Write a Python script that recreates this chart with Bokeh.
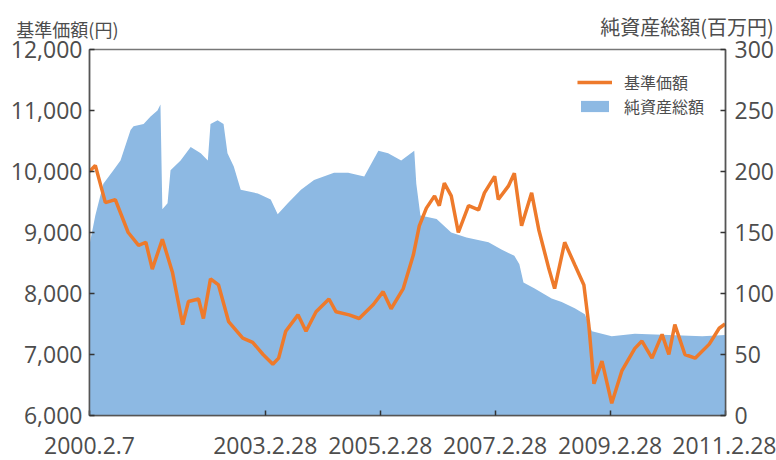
import pandas as pd
from bokeh.plotting import figure
from bokeh.models import (Range1d, LinearAxis, FixedTicker, NumeralTickFormatter,
                          Legend, LegendItem, ColumnDataSource)
from bokeh.embed import file_html
from bokeh.resources import INLINE

# 基準価額 (円)
nav_dates = ["2000-02-07", "2000-03-15", "2000-05-18", "2000-07-20", "2000-10-10", "2000-12-15",
             "2001-01-30", "2001-03-12", "2001-05-15", "2001-07-18", "2001-09-21", "2001-10-28",
             "2001-12-31", "2002-01-31", "2002-03-17", "2002-05-07", "2002-07-10", "2002-10-08",
             "2002-12-10", "2003-02-14", "2003-04-17", "2003-05-24", "2003-07-08", "2003-09-24",
             "2003-11-14", "2004-01-17", "2004-04-08", "2004-05-23", "2004-08-14", "2004-10-17",
             "2005-01-15", "2005-03-18", "2005-05-08", "2005-07-24", "2005-09-26", "2005-11-03",
             "2005-12-18", "2006-02-08", "2006-03-10", "2006-04-11", "2006-05-25", "2006-07-09",
             "2006-09-12", "2006-11-15", "2006-12-22", "2007-02-25", "2007-03-20", "2007-05-23",
             "2007-06-30", "2007-08-15", "2007-10-18", "2007-12-02", "2008-02-05", "2008-03-12",
             "2008-05-15", "2008-07-18", "2008-09-14", "2008-10-15", "2008-11-17", "2009-01-07",
             "2009-03-10", "2009-05-13", "2009-08-04", "2009-09-18", "2009-11-21", "2010-01-24",
             "2010-03-08", "2010-04-15", "2010-06-18", "2010-08-22", "2010-11-20", "2011-01-22",
             "2011-02-28"]
nav_values = [10000, 10100, 9490, 9540, 9000, 8790,
              8840, 8400, 8890, 8350, 7490, 7870,
              7910, 7590, 8240, 8140, 7540, 7270,
              7200, 7000, 6840, 6940, 7380, 7650,
              7380, 7700, 7910, 7700, 7650, 7590,
              7820, 8030, 7750, 8080, 8630, 9110,
              9400, 9600, 9440, 9810, 9600, 9000,
              9440, 9370, 9650, 9920, 9540, 9760,
              9970, 9110, 9650, 9050, 8400, 8080,
              8840, 8470, 8140, 7490, 6520, 6890,
              6200, 6730, 7100, 7220, 6940, 7330,
              7000, 7490, 7000, 6940, 7170, 7430,
              7500]

# 純資産総額 (百万円)
asset_dates = ["2000-02-07", "2000-03-15", "2000-05-05", "2000-07-08", "2000-08-22", "2000-10-25",
               "2000-11-13", "2001-01-16", "2001-03-01", "2001-04-14", "2001-05-03", "2001-05-15",
               "2001-06-17", "2001-07-06", "2001-09-08", "2001-11-11", "2002-01-14", "2002-02-28",
               "2002-03-17", "2002-05-01", "2002-06-08", "2002-07-03", "2002-08-12", "2002-09-25",
               "2003-01-12", "2003-04-04", "2003-05-18", "2003-07-21", "2003-10-13", "2004-01-04",
               "2004-05-10", "2004-08-08", "2004-11-18", "2005-02-16", "2005-04-19", "2005-07-11",
               "2005-10-02", "2005-10-15", "2005-11-10", "2006-02-21", "2006-05-25", "2006-08-30",
               "2007-01-17", "2007-04-09", "2007-06-30", "2007-08-01", "2007-08-27", "2007-11-06",
               "2008-02-22", "2008-04-26", "2008-07-18", "2008-09-20", "2008-11-04", "2009-03-10",
               "2009-08-04", "2010-03-08", "2010-10-06", "2011-02-28"]
asset_values = [140, 164, 190, 201, 209, 234,
                237, 239, 245, 250, 255, 169,
                174, 201, 209, 220, 215, 209,
                239, 242, 239, 215, 204, 185,
                182, 177, 165, 174, 185, 193,
                199, 199, 196, 217, 215, 209,
                217, 190, 164, 161, 150, 146,
                142, 136, 131, 124, 109, 104,
                96, 93, 88, 83, 69, 65,
                67, 66, 65, 66]

tick_dates = ["2000-02-07", "2003-02-28", "2005-02-28", "2007-02-28", "2009-02-28", "2011-02-28"]
tick_labels = ["2000.2.7", "2003.2.28", "2005.2.28", "2007.2.28", "2009.2.28", "2011.2.28"]

left_title = "基準価額(円)"
right_title = "純資産総額(百万円)"
series_names = ["基準価額", "純資産総額"]

NUM_FONT = "Open Sans"
JP_FONT = "Noto Sans CJK JP"
TXT = "#4d4d4d"
ORANGE = "#EE7A2B"
BLUE = "#8DB9E3"

W, H = 776, 460
FL, FR, FT, FB = 89, 51, 45, 45   # borders around the plot frame

src_n = ColumnDataSource(dict(date=pd.to_datetime(nav_dates), nav=nav_values))
src_a = ColumnDataSource(dict(date=pd.to_datetime(asset_dates), assets=asset_values))

p = figure(width=W, height=H, x_axis_type="datetime", output_backend="svg",
           toolbar_location=None,
           x_range=Range1d(pd.Timestamp("2000-02-07"), pd.Timestamp("2011-03-03")),
           y_range=Range1d(6000, 12000),
           min_border_left=FL, min_border_right=FR, min_border_top=FT, min_border_bottom=FB)
p.extra_y_ranges = {"assets": Range1d(0, 300)}
# pixel-based range for the top strip, used only to place the two axis titles
p.extra_x_ranges = {"title_px": Range1d(FL, W - FR)}
p.xgrid.visible = False
p.ygrid.visible = False
p.outline_line_color = "#777777"
p.outline_line_width = 1.5

r_area = p.varea(x="date", y1=0, y2="assets", source=src_a, y_range_name="assets",
                 fill_color=BLUE)
r_line = p.line(x="date", y="nav", source=src_n, line_color=ORANGE, line_width=3.5)

# bottom axis
tick_ms = [pd.Timestamp(d).value / 1e6 for d in tick_dates]
xa = p.xaxis[0]
xa.ticker = FixedTicker(ticks=tick_ms)
xa.major_label_overrides = {tm: lb for tm, lb in zip(tick_ms, tick_labels)}

# left axis
ya = p.yaxis[0]
ya.ticker = FixedTicker(ticks=list(range(6000, 12001, 1000)))
ya.formatter = NumeralTickFormatter(format="0,0")

# right axis
ax_r = LinearAxis(y_range_name="assets", ticker=FixedTicker(ticks=list(range(0, 301, 50))))
p.add_layout(ax_r, "right")

for ax in (xa, ya, ax_r):
    ax.major_tick_in = 5
    ax.major_tick_out = 0
    ax.minor_tick_line_color = None
    ax.axis_line_color = "#555555"
    ax.axis_line_width = 1.5
    ax.major_tick_line_color = "#333333"
    ax.major_tick_line_width = 1.5
    ax.major_label_text_font = NUM_FONT
    ax.major_label_text_font_size = "23px"
    ax.major_label_text_color = TXT
xa.major_label_standoff = 21
ya.major_label_standoff = 7
ax_r.major_label_standoff = 9


def title_axis(pos, text, standoff, orientation, size):
    ax = LinearAxis(x_range_name="title_px", ticker=FixedTicker(ticks=[pos]))
    ax.major_label_overrides = {pos: text}
    ax.axis_line_color = None
    ax.major_tick_line_color = None
    ax.minor_tick_line_color = None
    ax.major_tick_out = 0
    ax.major_tick_in = 0
    ax.major_label_standoff = standoff
    ax.major_label_orientation = orientation
    ax.major_label_text_font = JP_FONT
    ax.major_label_text_font_size = size
    ax.major_label_text_color = TXT
    return ax


# right title: centred label, row next to the frame
p.add_layout(title_axis(686.5, right_title, 9, "horizontal", "20px"), "above")
# left title: right end anchored near x=120, drawn back into the same row
p.add_layout(title_axis(118, left_title, -21, -1e-4, "18px"), "above")

legend = Legend(items=[LegendItem(label=series_names[0], renderers=[r_line]),
                       LegendItem(label=series_names[1], renderers=[r_area])],
                location="top_right", margin=21, padding=0, spacing=0,
                glyph_width=35, glyph_height=14, label_standoff=12,
                label_text_font=JP_FONT, label_text_font_size="16px",
                label_text_color=TXT, border_line_color=None,
                background_fill_alpha=0)
p.add_layout(legend)

open("out.html", "w").write(file_html(p, INLINE))
